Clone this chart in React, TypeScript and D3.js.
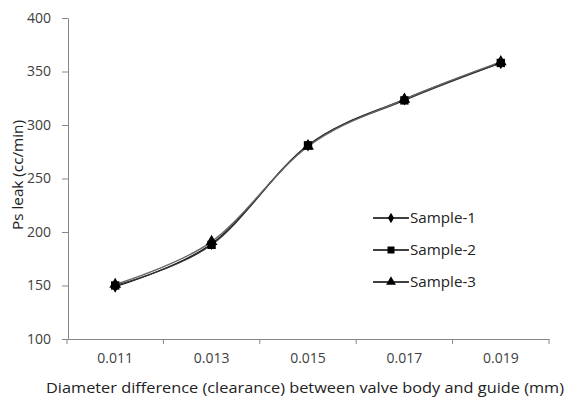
import { useEffect, useRef } from "react";
import * as d3 from "d3";

const clearances = ["0.011", "0.013", "0.015", "0.017", "0.019"];
const sample1 = [149, 189, 281, 324, 358];
const sample2 = [150, 188, 281, 323, 358];
const sample3 = [151, 191, 280, 324, 359];
const yTicks = [100, 150, 200, 250, 300, 350, 400];
const seriesNames = ["Sample-1", "Sample-2", "Sample-3"];

const FONT = "'Open Sans', sans-serif";

export default function App() {
  const svgRef = useRef<SVGSVGElement>(null);

  useEffect(() => {
    const svg = d3.select(svgRef.current);
    svg.selectAll("*").remove();

    const x = d3.scaleBand().domain(clearances).range([67, 549]);
    const y = d3.scaleLinear().domain([100, 400]).range([339, 18]);

    // y axis
    const yAxis = svg.append("g")
      .attr("transform", "translate(68,0)")
      .call(d3.axisLeft(y).tickValues(yTicks).tickSize(6).tickPadding(11).tickSizeOuter(0));
    yAxis.select(".domain").attr("stroke", "#868686");
    yAxis.selectAll("line").attr("stroke", "#868686");
    yAxis.selectAll("text")
      .attr("font-family", FONT)
      .attr("font-size", 14)
      .attr("fill", "#404040");

    // x axis, ticks between categories like Excel
    const xAxis = svg.append("g")
      .attr("transform", "translate(0,339)")
      .call(d3.axisBottom(x).tickSize(0).tickPadding(14).tickSizeOuter(0));
    xAxis.select(".domain").attr("stroke", "#868686");
    xAxis.selectAll("text")
      .attr("font-family", FONT)
      .attr("font-size", 14)
      .attr("fill", "#404040");
    const bounds = clearances.map(c => x(c)!).concat([x(clearances[clearances.length - 1])! + x.bandwidth()]);
    xAxis.selectAll(".bound")
      .data(bounds)
      .join("line")
      .attr("class", "bound")
      .attr("x1", d => d)
      .attr("x2", d => d)
      .attr("y1", 0)
      .attr("y2", 5)
      .attr("stroke", "#868686");

    // axis titles
    svg.append("text")
      .attr("transform", "translate(23,175) rotate(-90)")
      .attr("text-anchor", "middle")
      .attr("font-family", FONT)
      .attr("font-size", 14)
      .attr("textLength", 110)
      .attr("lengthAdjust", "spacingAndGlyphs")
      .attr("fill", "#222")
      .text("Ps leak (cc/min)");

    svg.append("text")
      .attr("x", 305)
      .attr("y", 393)
      .attr("text-anchor", "middle")
      .attr("font-family", FONT)
      .attr("font-size", 14)
      .attr("textLength", 518)
      .attr("lengthAdjust", "spacingAndGlyphs")
      .attr("fill", "#222")
      .text("Diameter difference (clearance) between valve body and guide  (mm)");

    const cx = (c: string) => x(c)! + x.bandwidth() / 2;
    const line = d3.line<number>()
      .x((_, i) => cx(clearances[i]))
      .y(d => y(d))
      .curve(d3.curveCatmullRom.alpha(0));

    const allSeries = [sample1, sample2, sample3];
    const colors = ["#111", "#333", "#666"];
    const symbols = [d3.symbolDiamond, d3.symbolSquare, d3.symbolTriangle];
    const symSizes = [45, 70, 60];

    allSeries.forEach((s, k) => {
      svg.append("path")
        .attr("d", line(s))
        .attr("fill", "none")
        .attr("stroke", colors[k])
        .attr("stroke-width", 1.3);
    });

    allSeries.forEach((s, k) => {
      svg.selectAll(".m" + k)
        .data(s)
        .join("path")
        .attr("class", "m" + k)
        .attr("transform", (d, i) => `translate(${cx(clearances[i])},${y(d)})`)
        .attr("d", d3.symbol(symbols[k], symSizes[k])())
        .attr("fill", "#000");
    });

    // legend
    const legend = svg.append("g");
    seriesNames.forEach((name, k) => {
      const ly = 218 + k * 32;
      legend.append("line")
        .attr("x1", 373).attr("x2", 409)
        .attr("y1", ly).attr("y2", ly)
        .attr("stroke", "#000")
        .attr("stroke-width", 1.5);
      legend.append("path")
        .attr("transform", `translate(391,${ly})`)
        .attr("d", d3.symbol(symbols[k], symSizes[k] * 0.7)())
        .attr("fill", "#000");
      legend.append("text")
        .attr("x", 410)
        .attr("y", ly + 5)
        .attr("font-family", FONT)
        .attr("font-size", 14)
        .attr("textLength", 66)
        .attr("lengthAdjust", "spacingAndGlyphs")
        .attr("fill", "#222")
        .text(name);
    });
  }, []);

  return (
    <div style={{ position: "absolute", left: 0, top: 0 }}>
      <svg ref={svgRef} width={568} height={398} style={{ display: "block", background: "#fff" }} />
    </div>
  );
}
